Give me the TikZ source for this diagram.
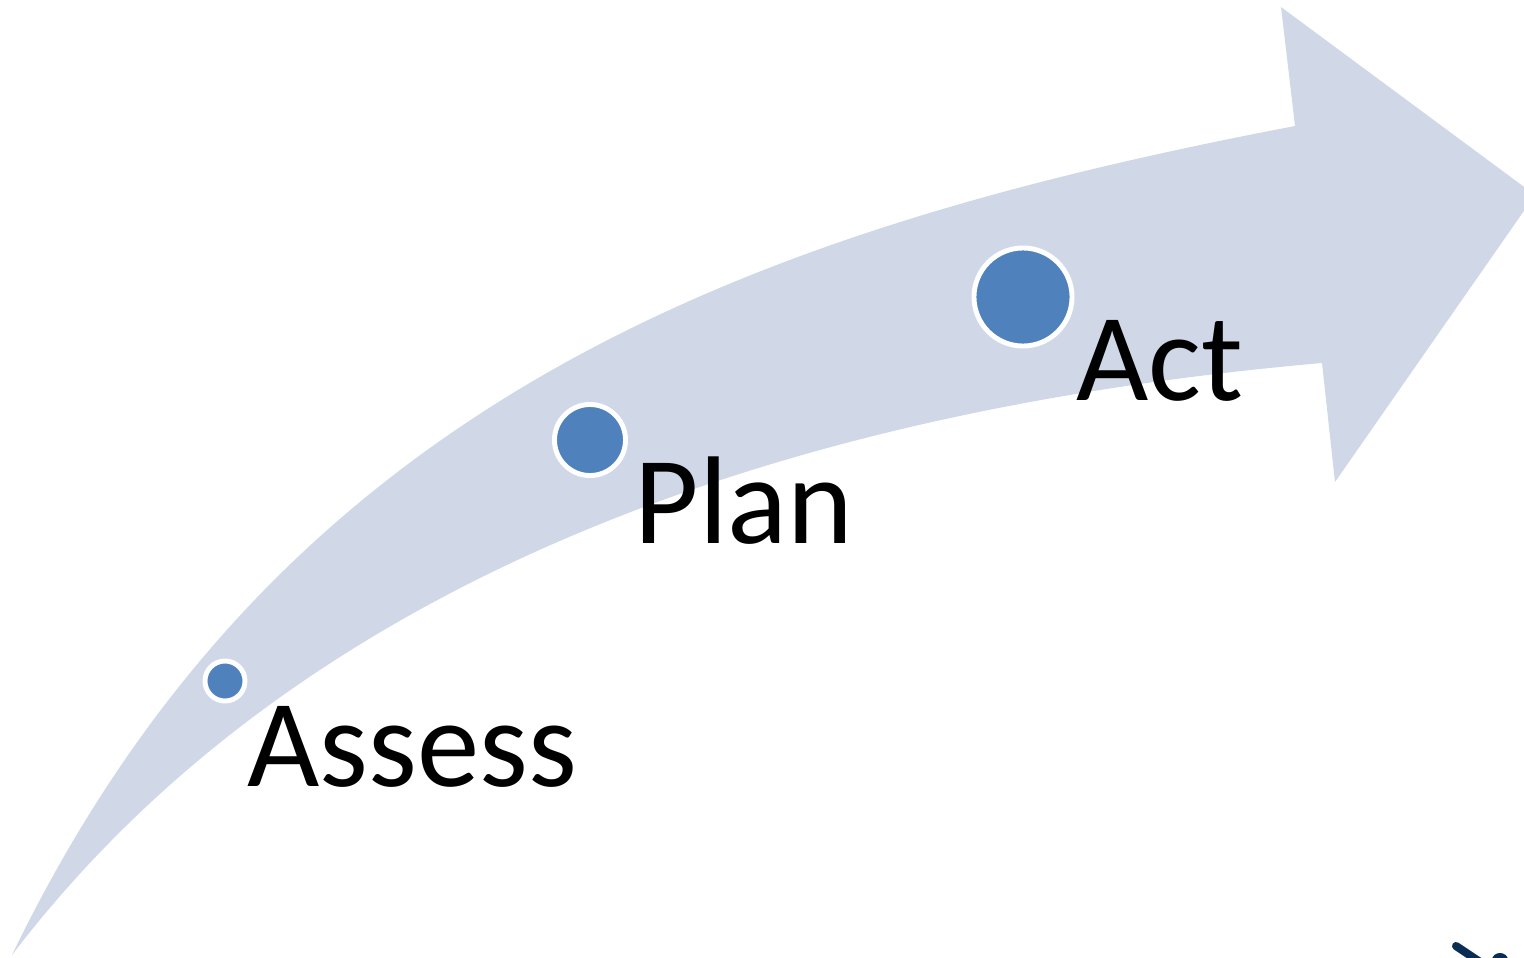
\documentclass[tikz,border=0pt]{standalone}
\usepackage{fontspec}
\setmainfont{Carlito}
\usepackage{tikz}
\definecolor{bandblue}{RGB}{208,216,232}
\definecolor{dotblue}{RGB}{79,129,189}
\definecolor{navy}{RGB}{10,45,85}

\tikzset{
    stepdot/.style={circle, fill=dotblue, draw=white, line width=1.4pt, inner sep=0pt},
    steplabel/.style={anchor=base west, inner sep=0pt, font=\fontsize{35.5}{42}\selectfont},
}

\begin{document}
\begin{tikzpicture}[x=0.01cm, y=-0.01cm]
    \useasboundingbox (0, 0) rectangle (1524, 957);
    % \draw[help lines, gray] (0, 0) grid[step=100] (1524, 957);

    % the curved arrow
    \fill[bandblue] (12, 955) .. controls (280, 400) and (750, 230) .. (1295, 126)
        -- (1281, 7) -- (1535, 195) -- (1335, 482) -- (1322, 363)
        .. controls (900, 400) and (340, 525) .. (12, 955) -- cycle;

    % bit of a logo at the corner
    \draw[navy, line width=2.3pt, line cap=round] (1456, 946) -- (1480, 962);
    \fill[navy] (1500, 960) ellipse[x radius=8, y radius=7];

    \node[stepdot, minimum size=0.40cm] (assessdot) at (225, 681) {};
    \node[stepdot, minimum size=0.71cm] (plandot) at (590, 440) {};
    \node[stepdot, minimum size=0.98cm] (actdot) at (1023, 297) {};

    \node[steplabel] (assess) at (247, 786) {Assess};
    \node[steplabel] (plan) at (634, 543) {Plan};
    \node[steplabel] (act) at (1076, 400) {Act};
\end{tikzpicture}
\end{document}
